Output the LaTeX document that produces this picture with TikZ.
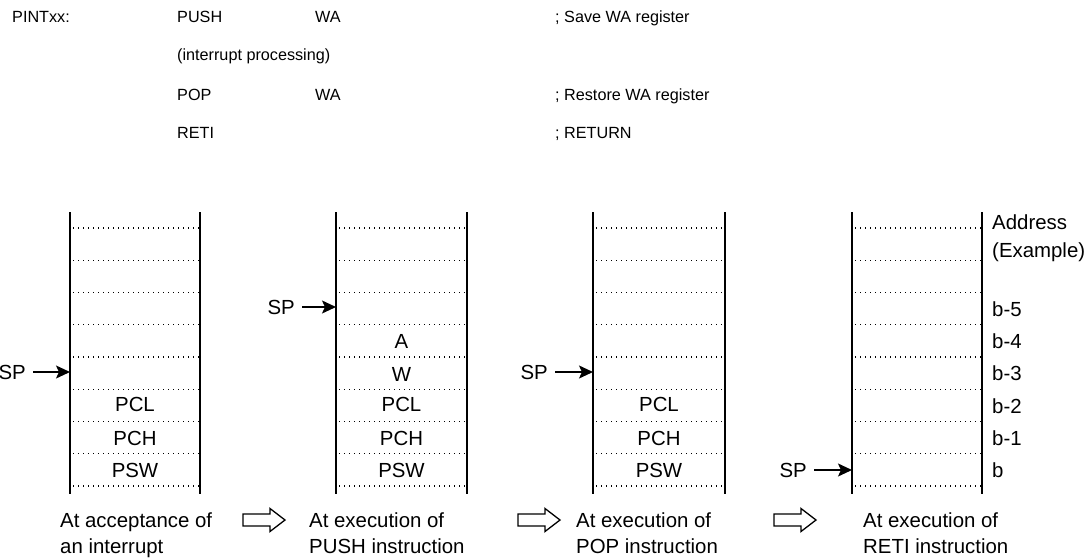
\documentclass[tikz,border=0pt]{standalone}
\usepackage{fontspec}
\setmainfont{Liberation Sans}
\usetikzlibrary{arrows.meta,positioning}

\begin{document}
\begin{tikzpicture}[x=1pt, y=-1pt, >=Stealth,
    code/.style={anchor=west, inner sep=0pt, font=\fontsize{16.2}{19}\selectfont, text height=11.6pt, text depth=0pt},
    lbl/.style={inner sep=0pt, font=\fontsize{20.4}{26}\selectfont, text height=14.6pt, text depth=0pt},
    caption/.style={anchor=north west, align=left, inner sep=0pt, font=\fontsize{20.4}{26}\selectfont},
    wall/.style={line width=1.6pt},
    slot/.style={line width=1.1pt, dash pattern=on 1.1pt off 3.9pt},
    sparrow/.style={-{Stealth[length=14pt,width=13pt,inset=3pt]}, line width=1.5pt, shorten <=7pt},
    holarrow/.style={line width=1.3pt, line join=miter}]
    \useasboundingbox (0,0) rectangle (1088,560);

    % Program listing
    \node[code] (entry) at (12,17) {PINTxx:};
    \node[code] (push) at (177,17) {PUSH};
    \node[code] (pushop) at (315,17) {WA};
    \node[code] (pushcm) at (555,17) {; Save WA register};
    \node[code] (body) at (177,55) {(interrupt processing)};
    \node[code] (pop) at (177,95) {POP};
    \node[code] (popop) at (315,95) {WA};
    \node[code] (popcm) at (555,95) {; Restore WA register};
    \node[code] (reti) at (177,133) {RETI};
    \node[code] (reticm) at (555,133) {; RETURN};

    % Stack areas
    \foreach \lx/\rx in {70/200, 336/467, 593/725, 852/982} {
        \draw[wall] (\lx,212) -- (\lx,494);
        \draw[wall] (\rx,212) -- (\rx,494);
        \foreach \k in {0,...,8}
            \draw[slot] (\lx+3,228+32.25*\k) -- (\rx-1,228+32.25*\k);
    }

    % Stack contents
    \node[lbl] (pcl1) at (135,404) {PCL};
    \node[lbl] (pch1) at (135,438) {PCH};
    \node[lbl] (psw1) at (135,470) {PSW};

    \node[lbl] (a2) at (401.5,341) {A};
    \node[lbl] (w2) at (401.5,374) {W};
    \node[lbl] (pcl2) at (401.5,404) {PCL};
    \node[lbl] (pch2) at (401.5,438) {PCH};
    \node[lbl] (psw2) at (401.5,470) {PSW};

    \node[lbl] (pcl3) at (659,404) {PCL};
    \node[lbl] (pch3) at (659,438) {PCH};
    \node[lbl] (psw3) at (659,470) {PSW};

    % Addresses
    \node[caption, font=\fontsize{20.4}{28}\selectfont] (addr) at (992,214.5) {Address\\(Example)};
    \node[lbl, anchor=west] (b5) at (992,309) {b-5};
    \node[lbl, anchor=west] (b4) at (992,341) {b-4};
    \node[lbl, anchor=west] (b3) at (992,373) {b-3};
    \node[lbl, anchor=west] (b2) at (992,406) {b-2};
    \node[lbl, anchor=west] (b1) at (992,438) {b-1};
    \node[lbl, anchor=west] (b0) at (992,470) {b};

    % Stack pointers
    \node[lbl, anchor=east] (sp1) at (26,372) {SP};
    \coordinate (top1) at (70,372);
    \draw[sparrow] (sp1.east) -- (top1);
    \node[lbl, anchor=east] (sp2) at (295,307) {SP};
    \coordinate (top2) at (336,307);
    \draw[sparrow] (sp2.east) -- (top2);
    \node[lbl, anchor=east] (sp3) at (548,372) {SP};
    \coordinate (top3) at (593,372);
    \draw[sparrow] (sp3.east) -- (top3);
    \node[lbl, anchor=east] (sp4) at (807,470) {SP};
    \coordinate (top4) at (852,470);
    \draw[sparrow] (sp4.east) -- (top4);

    % Captions
    \node[caption] (cap1) at (60,512.5) {At acceptance of\\an interrupt};
    \node[caption] (cap2) at (309,512.5) {At execution of\\PUSH instruction};
    \node[caption] (cap3) at (576,512.5) {At execution of\\POP instruction};
    \node[caption] (cap4) at (863,512.5) {At execution of\\RETI instruction};

    % Transition arrows
    \foreach \ax in {243,518,774}
        \draw[holarrow] (\ax,520) ++(0,-6) -- ++(27,0) -- ++(0,-5.5) -- ++(15,11.5)
            -- ++(-15,11.5) -- ++(0,-5.5) -- ++(-27,0) -- cycle;

\end{tikzpicture}
\end{document}
